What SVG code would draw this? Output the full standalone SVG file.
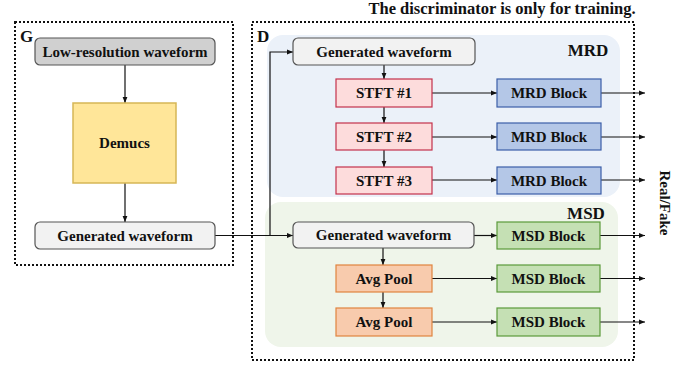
<svg xmlns="http://www.w3.org/2000/svg" width="692" height="367" viewBox="0 0 692 367" font-family="'Liberation Serif', 'Times New Roman', 'DejaVu Serif', serif" font-weight="bold">
<defs>
<marker id="ah" viewBox="0 0 10 10" refX="10" refY="5" markerWidth="6" markerHeight="6" markerUnits="userSpaceOnUse" orient="auto"><path d="M0,1 L10,5 L0,9 z" fill="#111"/></marker>
<style>
text{font-family:'Liberation Serif','Times New Roman','DejaVu Serif',serif;font-weight:bold;fill:#111;}
.t{font-size:15px;text-anchor:middle;dominant-baseline:central;}
.title{font-size:16.5px;text-anchor:middle;dominant-baseline:central;}
.lbl{font-size:17px;}
.dot{fill:none;stroke:#111;stroke-width:2;stroke-dasharray:2 2;}
.wave{fill:#f2f2f2;stroke:#555;stroke-width:1.2;}
.low{fill:#d0d0d0;stroke:#555;stroke-width:1.2;}
.dem{fill:#ffe699;stroke:#d6b656;stroke-width:1.5;}
.stft{fill:#fddcdc;stroke:#c4314b;stroke-width:1.2;}
.mrd{fill:#b4c7e7;stroke:#3b5ea8;stroke-width:1.2;}
.msd{fill:#c5e0b4;stroke:#5a9a3a;stroke-width:1.2;}
.pool{fill:#f8cbad;stroke:#e0843e;stroke-width:1.2;}
.c{fill:none;stroke:#111;stroke-width:1.2;marker-end:url(#ah);}
</style>
</defs>
<rect width="692" height="367" fill="#fff"/>
<g id="regions">
<rect x="267" y="35" width="353" height="162" rx="16" fill="#ebf1f9"/>
<rect x="265" y="202" width="353" height="145" rx="16" fill="#eff5ea"/>
<rect class="dot" x="15" y="22" width="218" height="243"/>
<rect class="dot" x="252" y="22" width="382" height="338"/>
<text class="lbl" x="20" y="42">G</text>
<text class="lbl" x="257" y="42">D</text>
<text class="lbl" x="588" y="56" text-anchor="middle">MRD</text>
<text class="lbl" x="586" y="219" text-anchor="middle">MSD</text>
<text class="title" x="502" y="8.5">The discriminator is only for training.</text>
<text class="t" transform="translate(665,203) rotate(90)" x="0" y="0">Real/Fake</text>
</g>
<g id="connectors">
<path class="c" d="M125,65 V103"/>
<path class="c" d="M125,183 V222"/>
<path class="c" d="M215,235.5 H293"/>
<path class="c" d="M270,235.5 V52 H293"/>
<path class="c" d="M384,65 V79"/>
<path class="c" d="M384,107 V123"/>
<path class="c" d="M384,150 V167"/>
<path class="c" d="M432,93 H497"/>
<path class="c" d="M432,137 H497"/>
<path class="c" d="M432,180 H497"/>
<path class="c" d="M601,93 H645"/>
<path class="c" d="M601,137 H645"/>
<path class="c" d="M601,180 H645"/>
<path class="c" d="M474,235.5 H497"/>
<path class="c" d="M383,248 V265"/>
<path class="c" d="M383,292 V308"/>
<path class="c" d="M432,278.5 H497"/>
<path class="c" d="M432,322 H497"/>
<path class="c" d="M600,235.5 H645"/>
<path class="c" d="M600,278.5 H645"/>
<path class="c" d="M600,322 H645"/>
</g>
<g id="g-lowres"><rect class="low" x="35" y="38" width="180" height="27" rx="5"/><text class="t" x="125" y="51.5">Low-resolution waveform</text></g>
<g id="g-demucs"><rect class="dem" x="73" y="103" width="103" height="80"/><text class="t" x="124.5" y="143">Demucs</text></g>
<g id="g-gen"><rect class="wave" x="35" y="222" width="180" height="27" rx="5"/><text class="t" x="125" y="235.5">Generated waveform</text></g>
<g id="mrd-gen"><rect class="wave" x="293" y="38" width="182" height="27" rx="5"/><text class="t" x="384" y="51.5">Generated waveform</text></g>
<g id="stft1"><rect class="stft" x="336" y="79" width="96" height="28"/><text class="t" x="384" y="93">STFT #1</text></g>
<g id="stft2"><rect class="stft" x="336" y="123" width="96" height="27"/><text class="t" x="384" y="136.5">STFT #2</text></g>
<g id="stft3"><rect class="stft" x="336" y="167" width="96" height="27"/><text class="t" x="384" y="180.5">STFT #3</text></g>
<g id="mrd1"><rect class="mrd" x="497" y="79" width="104" height="28"/><text class="t" x="549" y="93">MRD Block</text></g>
<g id="mrd2"><rect class="mrd" x="497" y="123" width="104" height="27"/><text class="t" x="549" y="136.5">MRD Block</text></g>
<g id="mrd3"><rect class="mrd" x="497" y="167" width="104" height="27"/><text class="t" x="549" y="180.5">MRD Block</text></g>
<g id="msd-gen"><rect class="wave" x="293" y="222" width="181" height="26" rx="5"/><text class="t" x="383.5" y="235">Generated waveform</text></g>
<g id="pool1"><rect class="pool" x="336" y="265" width="96" height="27"/><text class="t" x="384" y="278.5">Avg Pool</text></g>
<g id="pool2"><rect class="pool" x="336" y="308" width="96" height="28"/><text class="t" x="384" y="322">Avg Pool</text></g>
<g id="msd1"><rect class="msd" x="497" y="222" width="103" height="27"/><text class="t" x="548.5" y="235.5">MSD Block</text></g>
<g id="msd2"><rect class="msd" x="497" y="265" width="103" height="27"/><text class="t" x="548.5" y="278.5">MSD Block</text></g>
<g id="msd3"><rect class="msd" x="497" y="308" width="103" height="28"/><text class="t" x="548.5" y="322">MSD Block</text></g>
</svg>
